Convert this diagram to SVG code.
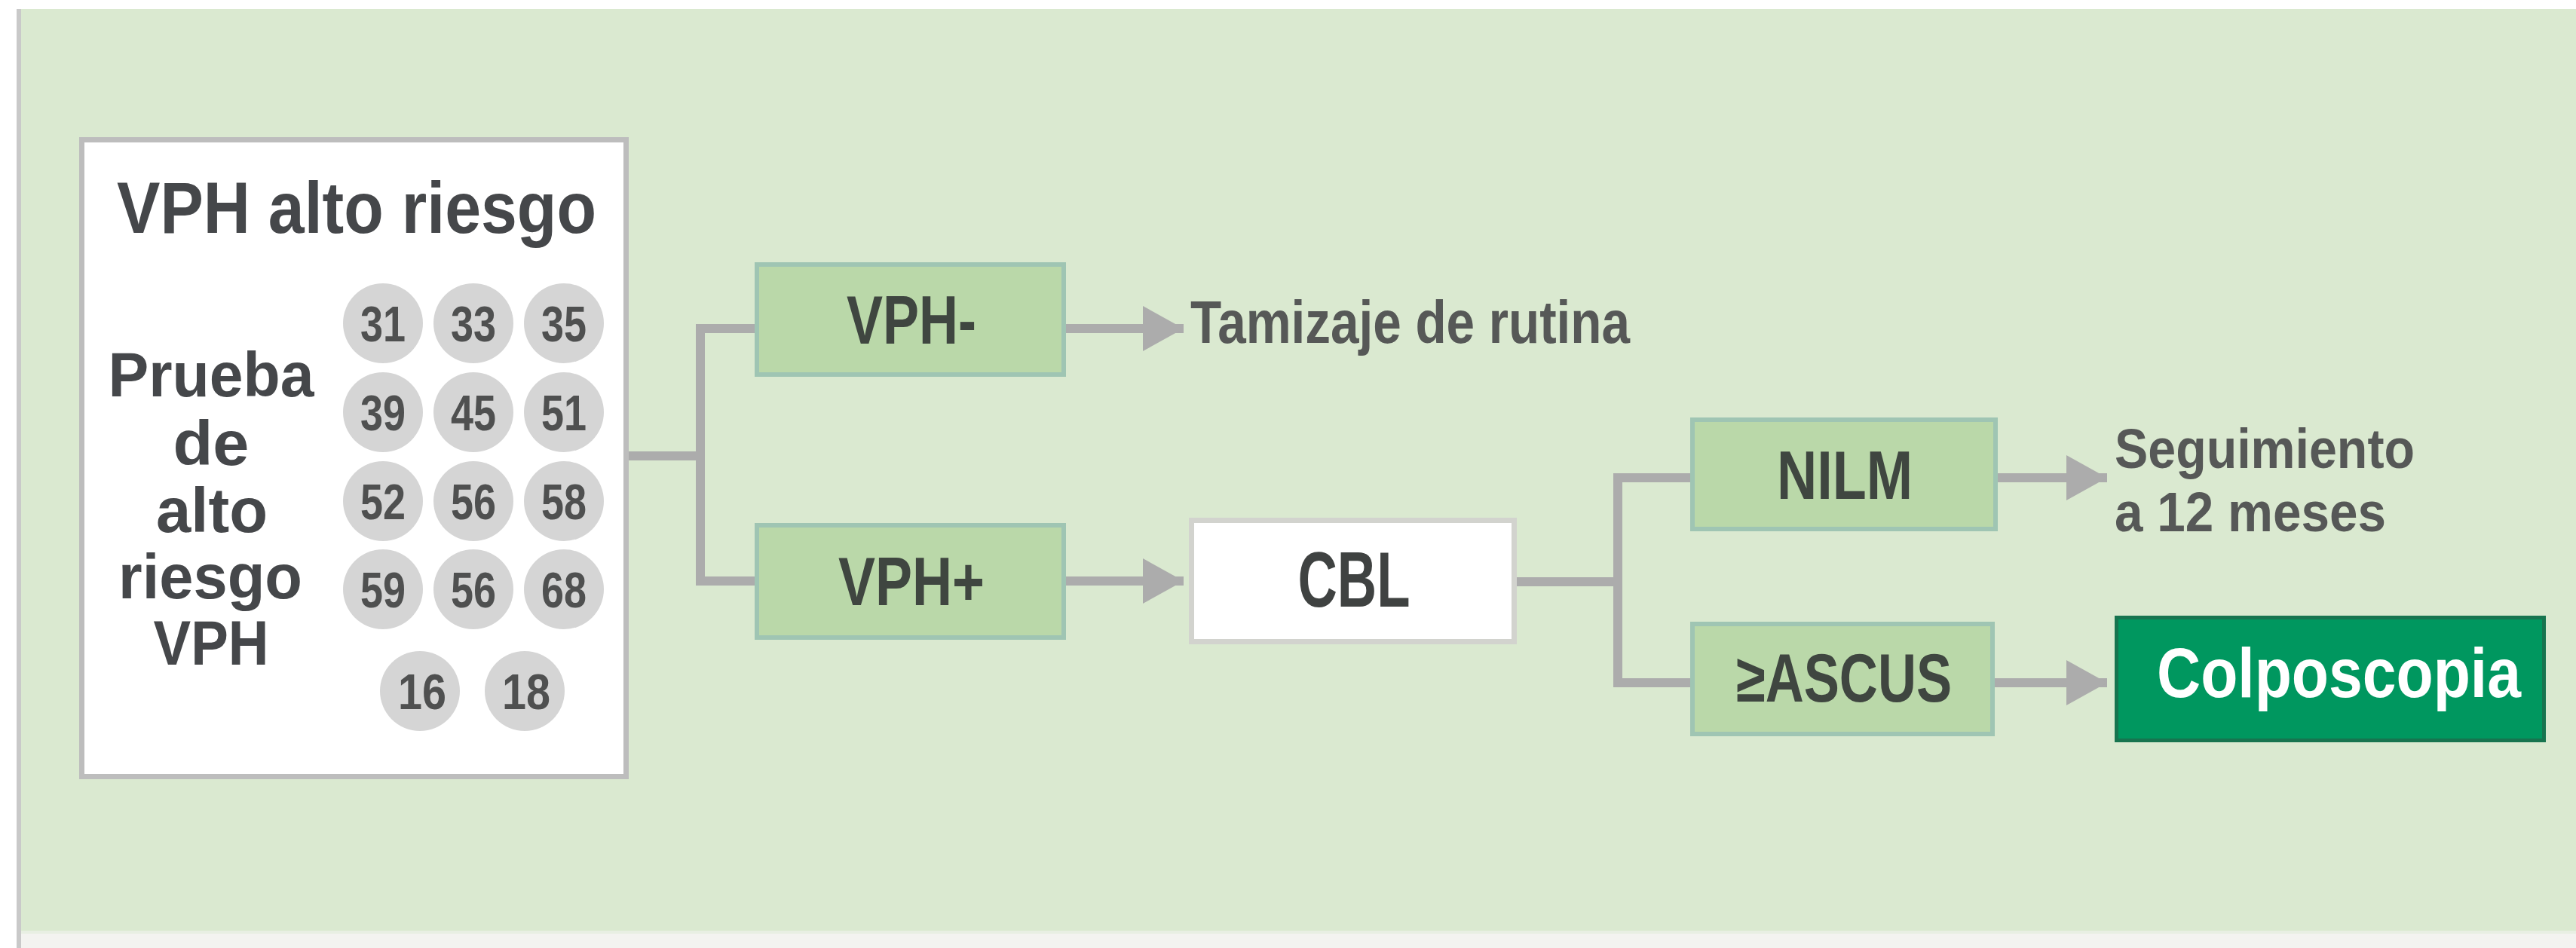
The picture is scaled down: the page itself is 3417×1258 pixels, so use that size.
<svg xmlns="http://www.w3.org/2000/svg" width="3417" height="1258" viewBox="0 0 3417 1258">
  <style>
    text { font-family: "Liberation Sans", Arial, sans-serif; font-weight: bold; }
    .title { font-size: 96px; fill: #45474a; }
    .side { font-size: 84px; fill: #45474a; text-anchor: middle; }
    .num { font-size: 66px; fill: #4f5050; text-anchor: middle; }
    .chip { fill: #d5d5d5; }
    .gbox { fill: #bad8a9; stroke: #9fc5b3; stroke-width: 6; }
    .glabel { font-size: 90px; fill: #3f4640; text-anchor: middle; }
    .note { font-size: 80px; fill: #565857; }
    .note-sm { font-size: 74px; fill: #565857; }
    .wire { fill: none; stroke: #acacac; stroke-width: 12; }
  </style>
  <defs>
    <marker id="head" markerUnits="userSpaceOnUse" markerWidth="56" markerHeight="62" refX="54" refY="31" orient="auto">
      <path d="M0,1 L54,31 L0,61 Z" fill="#acacac"/>
    </marker>
  </defs>

  <!-- page background -->
  <rect x="0" y="0" width="3417" height="1258" fill="#ffffff"/>
  <rect x="28" y="12" width="3389" height="1223" fill="#dae9d0"/>
  <rect x="28" y="1235" width="3389" height="4" fill="#e8efe3"/>
  <rect x="28" y="1239" width="3389" height="19" fill="#f3f3f0"/>
  <rect x="22" y="12" width="6" height="1246" fill="#c9c9c9"/>

  <!-- connectors -->
  <g id="connectors">
    <path class="wire" d="M834,605 H929"/>
    <path class="wire" d="M1001,436 H929 V771 H1001"/>
    <path class="wire" d="M1414,436 H1570" marker-end="url(#head)"/>
    <path class="wire" d="M1414,771 H1570" marker-end="url(#head)"/>
    <path class="wire" d="M2012,772 H2146"/>
    <path class="wire" d="M2242,634 H2146 V906 H2242"/>
    <path class="wire" d="M2650,634 H2795" marker-end="url(#head)"/>
    <path class="wire" d="M2645,906 H2795" marker-end="url(#head)"/>
  </g>

  <!-- high-risk HPV panel -->
  <g id="vph-alto-riesgo">
    <rect x="108.5" y="185.5" width="722" height="845" fill="#ffffff" stroke="#bdbdbd" stroke-width="7"/>
    <text class="title" x="155" y="309" textLength="636" lengthAdjust="spacingAndGlyphs">VPH alto riesgo</text>
    <text class="side" x="280" y="526" textLength="273" lengthAdjust="spacingAndGlyphs">Prueba</text>
    <text class="side" x="280" y="617" textLength="101" lengthAdjust="spacingAndGlyphs">de</text>
    <text class="side" x="281" y="706" textLength="148" lengthAdjust="spacingAndGlyphs">alto</text>
    <text class="side" x="279" y="794" textLength="244" lengthAdjust="spacingAndGlyphs">riesgo</text>
    <text class="side" x="280" y="882" textLength="153" lengthAdjust="spacingAndGlyphs">VPH</text>
    <g id="genotipos">
      <circle class="chip" cx="508" cy="429" r="53"/>
      <circle class="chip" cx="628" cy="429" r="53"/>
      <circle class="chip" cx="748" cy="429" r="53"/>
      <circle class="chip" cx="508" cy="547" r="53"/>
      <circle class="chip" cx="628" cy="547" r="53"/>
      <circle class="chip" cx="748" cy="547" r="53"/>
      <circle class="chip" cx="508" cy="665" r="53"/>
      <circle class="chip" cx="628" cy="665" r="53"/>
      <circle class="chip" cx="748" cy="665" r="53"/>
      <circle class="chip" cx="508" cy="782" r="53"/>
      <circle class="chip" cx="628" cy="782" r="53"/>
      <circle class="chip" cx="748" cy="782" r="53"/>
      <circle class="chip" cx="557" cy="917" r="53"/>
      <circle class="chip" cx="696" cy="917" r="53"/>
      <text class="num" x="508" y="453" textLength="60" lengthAdjust="spacingAndGlyphs">31</text>
      <text class="num" x="628" y="453" textLength="60" lengthAdjust="spacingAndGlyphs">33</text>
      <text class="num" x="748" y="453" textLength="60" lengthAdjust="spacingAndGlyphs">35</text>
      <text class="num" x="508" y="571" textLength="60" lengthAdjust="spacingAndGlyphs">39</text>
      <text class="num" x="628" y="571" textLength="60" lengthAdjust="spacingAndGlyphs">45</text>
      <text class="num" x="748" y="571" textLength="60" lengthAdjust="spacingAndGlyphs">51</text>
      <text class="num" x="508" y="689" textLength="60" lengthAdjust="spacingAndGlyphs">52</text>
      <text class="num" x="628" y="689" textLength="60" lengthAdjust="spacingAndGlyphs">56</text>
      <text class="num" x="748" y="689" textLength="60" lengthAdjust="spacingAndGlyphs">58</text>
      <text class="num" x="508" y="806" textLength="60" lengthAdjust="spacingAndGlyphs">59</text>
      <text class="num" x="628" y="806" textLength="60" lengthAdjust="spacingAndGlyphs">56</text>
      <text class="num" x="748" y="806" textLength="60" lengthAdjust="spacingAndGlyphs">68</text>
      <text class="num" x="560" y="941" textLength="64" lengthAdjust="spacingAndGlyphs">16</text>
      <text class="num" x="698" y="941" textLength="64" lengthAdjust="spacingAndGlyphs">18</text>
    </g>
  </g>

  <!-- HPV result branches -->
  <g id="vph-negativo">
    <rect class="gbox" x="1004" y="351" width="407" height="146"/>
    <text class="glabel" x="1209" y="456" textLength="172" lengthAdjust="spacingAndGlyphs">VPH-</text>
  </g>
  <g id="vph-positivo">
    <rect class="gbox" x="1004" y="697" width="407" height="149"/>
    <text class="glabel" x="1209" y="803" textLength="194" lengthAdjust="spacingAndGlyphs">VPH+</text>
  </g>
  <g id="tamizaje">
    <text class="note" x="1579" y="455" textLength="583" lengthAdjust="spacingAndGlyphs">Tamizaje de rutina</text>
  </g>

  <!-- cytology -->
  <g id="cbl">
    <rect x="1580.5" y="690.5" width="428" height="161" fill="#ffffff" stroke="#d2d3ce" stroke-width="7"/>
    <text x="1796" y="805" font-size="104" fill="#3f4241" text-anchor="middle" textLength="149" lengthAdjust="spacingAndGlyphs">CBL</text>
  </g>

  <!-- cytology result branches -->
  <g id="nilm">
    <rect class="gbox" x="2245" y="557" width="402" height="145"/>
    <text class="glabel" x="2447" y="662" textLength="180" lengthAdjust="spacingAndGlyphs">NILM</text>
  </g>
  <g id="ascus">
    <rect class="gbox" x="2245" y="828" width="398" height="146"/>
    <text class="glabel" x="2446" y="931" textLength="286" lengthAdjust="spacingAndGlyphs">≥ASCUS</text>
  </g>
  <g id="seguimiento">
    <text class="note-sm" x="2805" y="621" textLength="398" lengthAdjust="spacingAndGlyphs">Seguimiento</text>
    <text class="note-sm" x="2805" y="705" textLength="360" lengthAdjust="spacingAndGlyphs">a 12 meses</text>
  </g>
  <g id="colposcopia">
    <rect x="2807.5" y="819.5" width="567" height="163" fill="#00975f" stroke="#17744f" stroke-width="5"/>
    <text x="2861" y="925" font-size="92" fill="#ffffff" textLength="483" lengthAdjust="spacingAndGlyphs">Colposcopia</text>
  </g>
</svg>
